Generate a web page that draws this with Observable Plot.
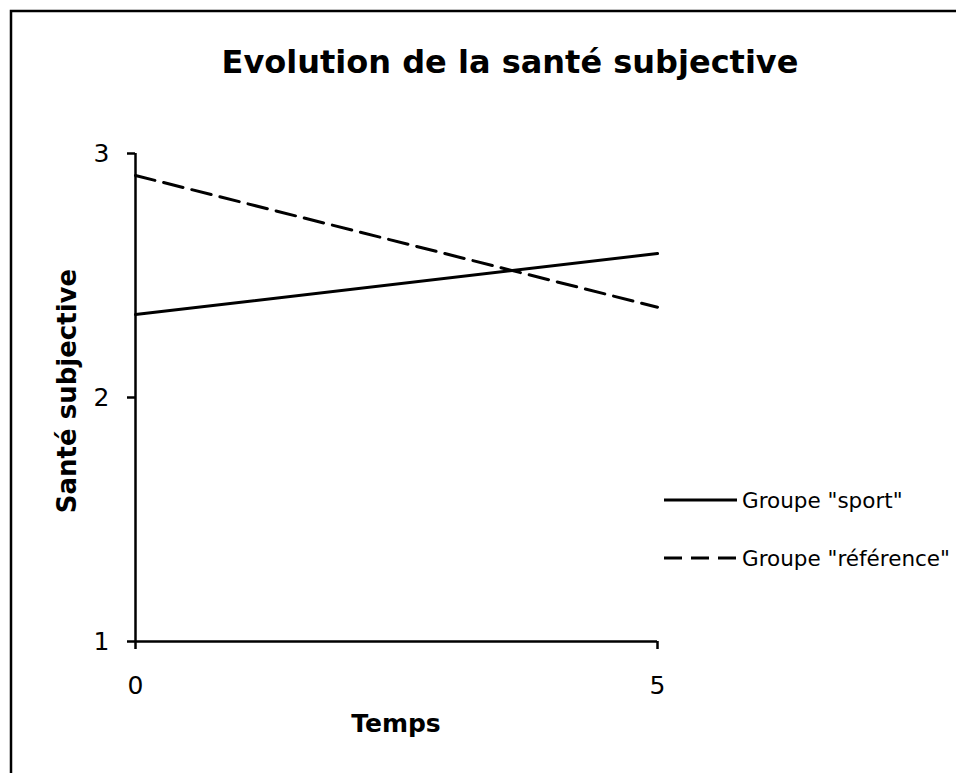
<!DOCTYPE html>
<html><head><meta charset="utf-8">
<script src="https://cdn.jsdelivr.net/npm/d3@7"></script>
<script src="https://cdn.jsdelivr.net/npm/@observablehq/plot@0.6"></script>
<style>body{margin:0;background:#fff} svg{display:block}</style>
</head><body><div id="chart"></div>
<script>
const times = [0, 5];
const sport = [2.34, 2.59];
const reference = [2.91, 2.37];
const seriesNames = ['Groupe "sport"', 'Groupe "référence"'];
const yTicks = [1, 2, 3];
const xTicks = [0, 5];
const title = "Evolution de la santé subjective";
const xLabel = "Temps";
const yLabel = "Santé subjective";

const sportData = times.map((t, i) => ({t, v: sport[i], s: seriesNames[0]}));
const refData = times.map((t, i) => ({t, v: reference[i], s: seriesNames[1]}));
const FONT = "DejaVu Sans";
const DASH = "20,9";

const chart = Plot.plot({
  width: 956, height: 773,
  marginLeft: 135, marginRight: 299, marginTop: 153, marginBottom: 132,
  style: {fontFamily: FONT, background: "white", color: "black", overflow: "visible"},
  x: {domain: [0, 5]},
  y: {domain: [1, 3]},
  marks: [
    Plot.axisY({ticks: yTicks, tickSize: 8, tickPadding: 18, fontSize: 25, label: null, strokeWidth: 2.5, tickFormat: d => String(d)}),
    Plot.axisX({ticks: xTicks, tickSize: 8, tickPadding: 27, fontSize: 25, label: null, strokeWidth: 2.5, tickFormat: d => String(d)}),
    Plot.ruleX([0], {stroke: "black", strokeWidth: 2.5}),
    Plot.ruleY([1], {stroke: "black", strokeWidth: 2.5}),
    Plot.line(sportData, {x: "t", y: "v", stroke: "black", strokeWidth: 3}),
    Plot.line(refData, {x: "t", y: "v", stroke: "black", strokeWidth: 3, strokeDasharray: DASH})
  ]
});

const svg = d3.select(chart);
svg.append("rect").attr("x", 11).attr("y", 11).attr("width", 1200).attr("height", 1200)
  .attr("fill", "none").attr("stroke", "black").attr("stroke-width", 2.5);
svg.append("text").attr("x", 510).attr("y", 73).attr("text-anchor", "middle")
  .attr("font-family", FONT).attr("font-weight", "bold").attr("font-size", 32).text(title);
svg.append("text").attr("x", 396).attr("y", 732).attr("text-anchor", "middle")
  .attr("font-family", FONT).attr("font-weight", "bold").attr("font-size", 25).text(xLabel);
svg.append("text").attr("transform", "translate(76,391) rotate(-90)").attr("text-anchor", "middle")
  .attr("font-family", FONT).attr("font-weight", "bold").attr("font-size", 26).text(yLabel);

const legend = svg.append("g");
seriesNames.forEach((name, i) => {
  const y = 500 + i * 58;
  legend.append("line").attr("x1", 664).attr("x2", 737).attr("y1", y).attr("y2", y)
    .attr("stroke", "black").attr("stroke-width", 3)
    .attr("stroke-dasharray", i === 1 ? "18,9" : null);
  legend.append("text").attr("x", 742).attr("y", y).attr("dy", "0.36em")
    .attr("text-anchor", "start")
    .attr("font-family", FONT).attr("font-size", 21.5).text(name);
});

document.getElementById("chart").appendChild(chart);
</script>
</body></html>
